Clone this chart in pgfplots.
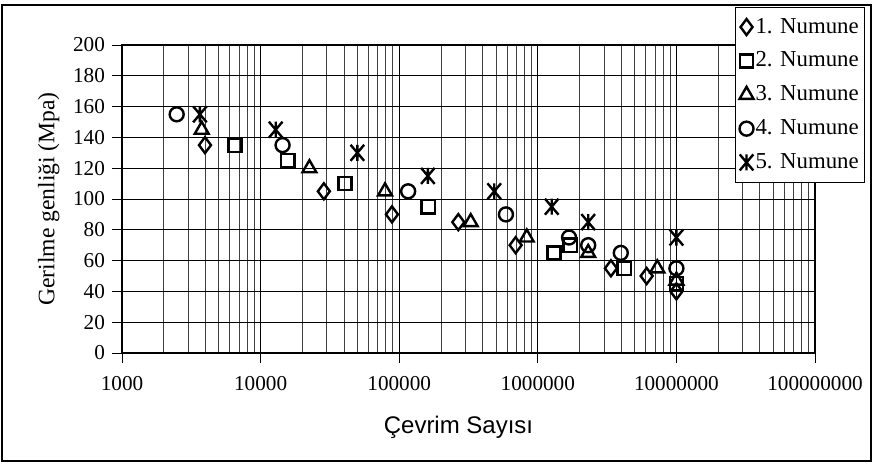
\documentclass[border=0pt]{standalone}
\usepackage{fontspec}
\setmainfont{Liberation Serif}
\newfontfamily\arialfont{Liberation Sans}
\usepackage{pgfplots}
\pgfplotsset{compat=1.18}
\pgfdeclareplotmark{xstar}{%
 \pgfpathmoveto{\pgfqpoint{-0.85\pgfplotmarksize}{-\pgfplotmarksize}}%
 \pgfpathlineto{\pgfqpoint{0.85\pgfplotmarksize}{\pgfplotmarksize}}%
 \pgfpathmoveto{\pgfqpoint{-0.85\pgfplotmarksize}{\pgfplotmarksize}}%
 \pgfpathlineto{\pgfqpoint{0.85\pgfplotmarksize}{-\pgfplotmarksize}}%
 \pgfpathmoveto{\pgfqpoint{0pt}{-\pgfplotmarksize}}%
 \pgfpathlineto{\pgfqpoint{0pt}{\pgfplotmarksize}}%
 \pgfusepathqstroke}
\begin{document}
\begin{tikzpicture}
\path[use as bounding box] (0,0) rectangle (436pt,231.5pt);
\draw[line width=0.6pt] (1pt,1pt) rectangle (435.5pt,229pt);
\begin{axis}[
  at={(61pt,55pt)}, anchor=south west,
  scale only axis, width=346.5pt, height=154pt,
  xmode=log, xmin=1000, xmax=1e8,
  ymin=0, ymax=200, ytick={0,20,...,200},
  xtick={1e3,1e4,1e5,1e6,1e7,1e8},
  xticklabels={1000,10000,100000,1000000,10000000,100000000},
  /pgf/number format/assume math mode=true,
  grid=both,
  major grid style={black, line width=0.45pt},
  minor grid style={black!75, line width=0.4pt},
  axis line style={line width=1.1pt},
  tick style={black, line width=0.5pt},
  major tick length=5pt, minor tick length=0pt,
  tick align=outside, xtick pos=bottom, ytick pos=left,
  tick label style={font=\fontsize{10.6}{13}\selectfont},
  xticklabel style={yshift=-3pt},
  xlabel={\arialfont Çevrim Sayısı}, xlabel style={font=\fontsize{12}{14}\selectfont, yshift=-6pt, xshift=-5pt},
  ylabel={Gerilme genliği (Mpa)}, ylabel style={font=\fontsize{11.8}{14}\selectfont, yshift=0pt},
  legend style={at={(0.8846,1.125)}, anchor=north west, draw=black, line width=0.5pt,
    font=\fontsize{11.4}{14}\selectfont, row sep=3.9pt, inner xsep=2pt, inner ysep=3.5pt,
    nodes={inner xsep=1pt}, legend cell align=left},
  legend image code/.code={\draw[mark repeat=2,mark phase=2] plot coordinates {(0cm,0cm) (0.1cm,0cm) (0.2cm,0cm)};},
  every axis plot/.append style={only marks, line width=1.2pt, black, mark size=3.5pt},
  clip=false,
]
\addplot[mark=diamond, mark size=4pt] coordinates {(3970,135) (28600,105) (88700,90) (267000,85) (692000,70) (3.37e6,55) (6.1e6,50) (1e7,40)};
\addlegendentry{1. Numune}
\addplot[mark=square, mark size=3.3pt] coordinates {(6530,135) (15700,125) (40600,110) (162000,95) (1.31e6,65) (1.71e6,70) (4.2e6,55) (1e7,45)};
\addlegendentry{2. Numune}
\addplot[mark=triangle, mark size=4pt] coordinates {(3760,145) (22500,120) (79000,105) (328000,85) (832000,75) (2.31e6,65) (7.28e6,55) (1e7,47)};
\addlegendentry{3. Numune}
\addplot[mark=o, mark size=3.5pt] coordinates {(2480,155) (14400,135) (116000,105) (589000,90) (1.68e6,75) (2.31e6,70) (3.97e6,65) (1e7,55)};
\addlegendentry{4. Numune}
\addplot[mark=xstar, mark size=4pt] coordinates {(3650,155) (12850,145) (49900,130) (161000,115) (485000,105) (1.26e6,95) (2.31e6,85) (1e7,75)};
\addlegendentry{5. Numune}
\end{axis}
\end{tikzpicture}
\end{document}
